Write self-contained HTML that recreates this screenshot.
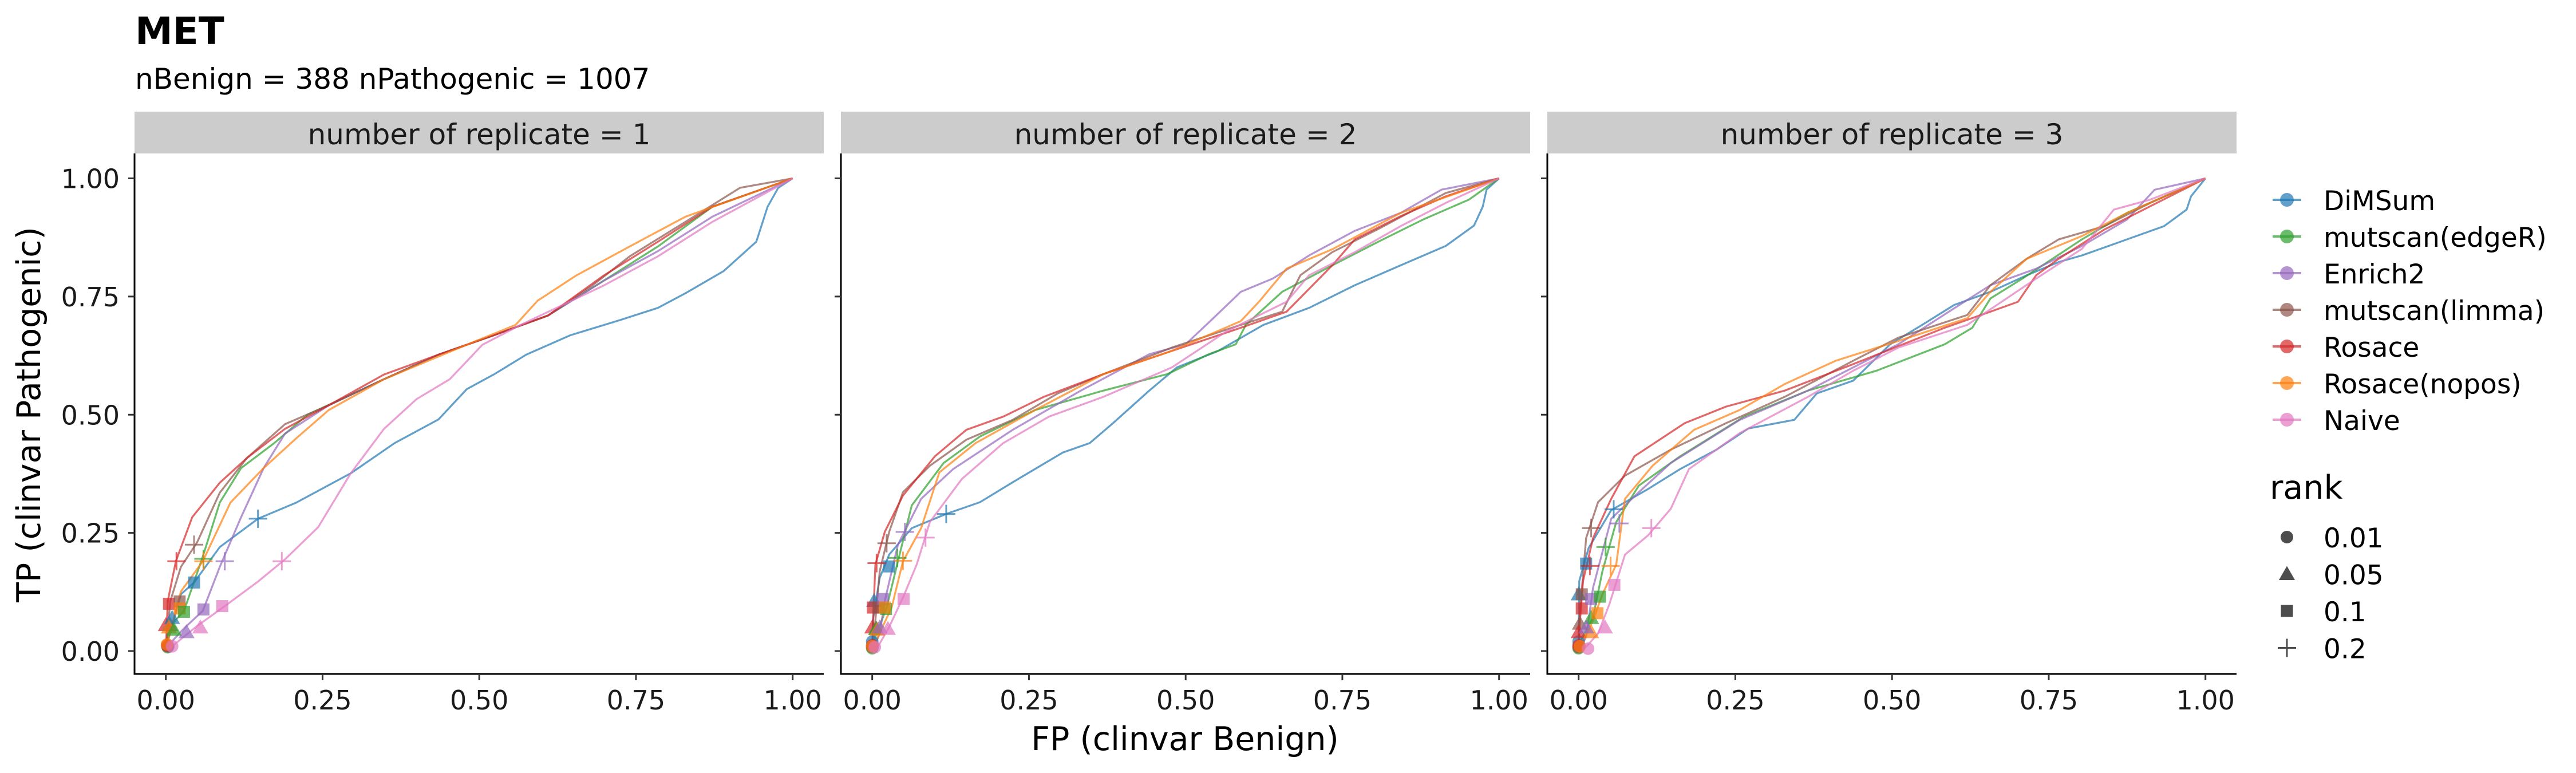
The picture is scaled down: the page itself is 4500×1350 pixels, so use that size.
<!DOCTYPE html>
<html><head><meta charset="utf-8"><style>
html,body{margin:0;padding:0;background:#fff;}
svg{display:block;font-family:"DejaVu Sans","Liberation Sans",sans-serif;}
</style></head><body>
<svg id="chart" width="4500" height="1350" viewBox="0 0 4500 1350" xmlns="http://www.w3.org/2000/svg">
<text x="236" y="77" font-size="66" font-weight="bold">MET</text>
<text x="236" y="155" font-size="50">nBenign = 388 nPathogenic = 1007</text>
<text transform="translate(70,724) rotate(-90)" text-anchor="middle" font-size="57">TP (clinvar Pathogenic)</text>
<text x="2070" y="1310" text-anchor="middle" font-size="57">FP (clinvar Benign)</text>
<g id="panels"></g>
<g id="legend"></g>
</svg>
<script>
const methods = ["DiMSum","mutscan(edgeR)","Enrich2","mutscan(limma)","Rosace","Rosace(nopos)","Naive"];
const colors = ["#1f77b4","#2ca02c","#9467bd","#8c564b","#d62728","#ff7f0e","#e377c2"];
const ranks = ["0.01","0.05","0.1","0.2"];
const panelTitles = ["number of replicate = 1","number of replicate = 2","number of replicate = 3"];
const tickValues = [0,0.25,0.5,0.75,1];
const tickLabels = ["0.00","0.25","0.50","0.75","1.00"];

// Panel 1 curves [fp,tp]
const r1_dimsum = [[0,0],[0.003,0.02],[0.024,0.12],[0.045,0.145],[0.086,0.22],[0.147,0.28],[0.208,0.314],[0.295,0.376],[0.365,0.44],[0.435,0.49],[0.48,0.554],[0.523,0.585],[0.575,0.627],[0.645,0.668],[0.724,0.70],[0.785,0.726],[0.829,0.757],[0.89,0.804],[0.942,0.866],[0.96,0.94],[0.977,0.98],[1,1]];
const r1_edger = [[0,0],[0.007,0.053],[0.029,0.085],[0.059,0.2],[0.086,0.314],[0.12,0.387],[0.173,0.44],[0.226,0.5],[0.348,0.575],[0.435,0.627],[0.523,0.668],[0.61,0.71],[0.698,0.783],[0.785,0.856],[0.872,0.94],[1,1]];
const r1_enrich2 = [[0,0],[0.011,0.022],[0.029,0.048],[0.059,0.085],[0.086,0.178],[0.12,0.283],[0.156,0.387],[0.19,0.46],[0.26,0.52],[0.348,0.575],[0.435,0.627],[0.523,0.668],[0.61,0.71],[0.698,0.783],[0.785,0.846],[0.872,0.919],[1,1]];
const r1_limma = [[0,0],[0.007,0.105],[0.024,0.178],[0.05,0.23],[0.086,0.335],[0.129,0.408],[0.19,0.48],[0.26,0.52],[0.348,0.575],[0.435,0.627],[0.523,0.668],[0.61,0.71],[0.68,0.773],[0.74,0.835],[0.829,0.908],[0.916,0.98],[1,1]];
const r1_rosace = [[0,0],[0.003,0.105],[0.016,0.19],[0.042,0.283],[0.086,0.356],[0.129,0.408],[0.19,0.47],[0.26,0.52],[0.348,0.585],[0.435,0.627],[0.523,0.668],[0.61,0.71],[0.698,0.794],[0.785,0.866],[0.872,0.94],[1,1]];
const r1_nopos = [[0,0],[0.003,0.02],[0.024,0.126],[0.059,0.19],[0.103,0.314],[0.156,0.387],[0.208,0.45],[0.26,0.51],[0.348,0.575],[0.48,0.648],[0.558,0.69],[0.593,0.741],[0.654,0.794],[0.74,0.856],[0.829,0.919],[1,1]];
const r1_naive = [[0,0],[0.011,0.011],[0.05,0.053],[0.094,0.095],[0.147,0.147],[0.19,0.194],[0.243,0.262],[0.295,0.376],[0.348,0.47],[0.4,0.533],[0.453,0.575],[0.505,0.648],[0.566,0.69],[0.698,0.773],[0.785,0.835],[0.872,0.908],[1,1]];

// Panel 2 curves
const r2_dimsum = [[0,0],[0.001,0.065],[0.012,0.155],[0.027,0.204],[0.063,0.26],[0.118,0.29],[0.172,0.315],[0.224,0.357],[0.304,0.42],[0.347,0.44],[0.384,0.482],[0.442,0.551],[0.486,0.6],[0.552,0.635],[0.624,0.69],[0.697,0.726],[0.77,0.774],[0.843,0.816],[0.915,0.857],[0.96,0.9],[0.974,0.94],[0.98,0.976],[1,1]];
const r2_edger = [[0,0],[0.005,0.03],[0.023,0.092],[0.041,0.19],[0.063,0.308],[0.114,0.398],[0.172,0.454],[0.26,0.51],[0.369,0.551],[0.471,0.586],[0.537,0.628],[0.58,0.649],[0.596,0.69],[0.654,0.76],[0.734,0.816],[0.806,0.865],[0.879,0.913],[0.952,0.955],[1,1]];
const r2_enrich2 = [[0,0],[0.012,0.037],[0.02,0.106],[0.041,0.225],[0.078,0.322],[0.129,0.385],[0.224,0.468],[0.333,0.551],[0.442,0.628],[0.5,0.649],[0.544,0.704],[0.588,0.76],[0.639,0.788],[0.697,0.837],[0.77,0.889],[0.843,0.927],[0.908,0.976],[1,1]];
const r2_limma = [[0,0],[0.005,0.065],[0.012,0.169],[0.027,0.252],[0.049,0.336],[0.092,0.392],[0.15,0.447],[0.224,0.489],[0.296,0.545],[0.369,0.586],[0.478,0.642],[0.588,0.69],[0.654,0.718],[0.683,0.795],[0.734,0.844],[0.806,0.892],[0.915,0.969],[1,1]];
const r2_rosace = [[0,0],[0.001,0.05],[0.005,0.183],[0.02,0.252],[0.049,0.329],[0.1,0.412],[0.15,0.468],[0.209,0.496],[0.274,0.538],[0.369,0.586],[0.478,0.635],[0.588,0.684],[0.661,0.718],[0.734,0.816],[0.77,0.871],[0.843,0.92],[0.915,0.962],[1,1]];
const r2_nopos = [[0,0],[0.009,0.03],[0.031,0.092],[0.049,0.19],[0.078,0.26],[0.107,0.378],[0.165,0.44],[0.26,0.51],[0.369,0.586],[0.478,0.635],[0.588,0.698],[0.617,0.739],[0.661,0.809],[0.734,0.85],[0.843,0.927],[1,1]];
const r2_naive = [[0,0],[0.009,0.009],[0.027,0.051],[0.049,0.113],[0.071,0.183],[0.092,0.273],[0.143,0.364],[0.209,0.44],[0.282,0.496],[0.369,0.538],[0.478,0.6],[0.566,0.677],[0.661,0.739],[0.697,0.795],[0.77,0.844],[0.843,0.899],[0.915,0.948],[1,1]];

// Panel 3 curves
const r3_dimsum = [[0,0],[0,0.009],[0.001,0.148],[0.016,0.218],[0.052,0.298],[0.111,0.343],[0.162,0.385],[0.22,0.426],[0.271,0.471],[0.344,0.489],[0.38,0.545],[0.438,0.572],[0.497,0.649],[0.548,0.69],[0.599,0.732],[0.657,0.76],[0.715,0.795],[0.766,0.823],[0.803,0.837],[0.875,0.871],[0.934,0.899],[0.97,0.934],[0.977,0.962],[1,1]];
const r3_edger = [[0,0],[0.001,0.016],[0.023,0.072],[0.038,0.169],[0.06,0.273],[0.096,0.35],[0.162,0.412],[0.264,0.496],[0.366,0.551],[0.475,0.593],[0.584,0.649],[0.628,0.684],[0.657,0.746],[0.708,0.788],[0.803,0.871],[0.875,0.927],[1,1]];
const r3_enrich2 = [[0,0],[0.012,0.03],[0.023,0.134],[0.052,0.28],[0.096,0.336],[0.147,0.398],[0.257,0.489],[0.366,0.551],[0.51,0.649],[0.599,0.725],[0.657,0.774],[0.73,0.809],[0.803,0.857],[0.875,0.913],[0.919,0.976],[1,1]];
const r3_limma = [[0,0],[0.001,0.065],[0.012,0.239],[0.031,0.315],[0.074,0.371],[0.147,0.426],[0.235,0.482],[0.329,0.538],[0.438,0.614],[0.51,0.663],[0.62,0.711],[0.657,0.774],[0.715,0.83],[0.766,0.871],[0.839,0.899],[0.912,0.948],[1,1]];
const r3_rosace = [[0,0],[0.001,0.044],[0.007,0.148],[0.023,0.239],[0.052,0.322],[0.089,0.412],[0.169,0.482],[0.235,0.517],[0.329,0.551],[0.438,0.607],[0.584,0.684],[0.657,0.718],[0.701,0.739],[0.73,0.795],[0.766,0.83],[0.839,0.892],[0.912,0.941],[1,1]];
const r3_nopos = [[0,0],[0.005,0.016],[0.023,0.065],[0.038,0.12],[0.06,0.183],[0.074,0.322],[0.118,0.392],[0.184,0.468],[0.257,0.51],[0.329,0.565],[0.41,0.614],[0.51,0.656],[0.62,0.704],[0.657,0.76],[0.715,0.83],[0.803,0.878],[0.875,0.927],[1,1]];
const r3_naive = [[0,0],[0.012,0.009],[0.031,0.037],[0.049,0.099],[0.074,0.204],[0.111,0.245],[0.147,0.301],[0.176,0.385],[0.257,0.461],[0.366,0.538],[0.438,0.593],[0.51,0.642],[0.62,0.69],[0.73,0.788],[0.803,0.851],[0.854,0.934],[0.912,0.955],[1,1]];

// markers: [methodIndex, rankIndex, fp, tp]
const r1_marks = [[0,0,0.003,0.01],[1,0,0.003,0.008],[2,0,0.004,0.01],[3,0,0.003,0.01],[4,0,0.002,0.012],[5,0,0.002,0.014],[6,0,0.01,0.01],
 [4,1,0,0.055],[3,1,0.007,0.055],[0,1,0.01,0.07],[5,1,0.005,0.05],[1,1,0.013,0.045],[2,1,0.033,0.04],[6,1,0.055,0.05],
 [4,2,0.005,0.1],[3,2,0.022,0.105],[5,2,0.022,0.09],[1,2,0.029,0.083],[0,2,0.045,0.145],[2,2,0.06,0.088],[6,2,0.09,0.095],
 [4,3,0.017,0.19],[3,3,0.045,0.225],[1,3,0.06,0.195],[5,3,0.06,0.19],[2,3,0.094,0.19],[0,3,0.147,0.28],[6,3,0.185,0.19]];
const r2_marks = [[0,0,0,0.02],[1,0,0,0.006],[2,0,0.001,0.01],[3,0,0,0.008],[4,0,0,0.012],[5,0,0,0.01],[6,0,0.004,0.008],
 [4,1,0,0.05],[0,1,0.003,0.106],[3,1,0.007,0.047],[1,1,0.006,0.047],[5,1,0.008,0.045],[2,1,0.012,0.05],[6,1,0.025,0.047],
 [4,2,0.001,0.092],[3,2,0.01,0.092],[2,2,0.017,0.11],[1,2,0.022,0.089],[0,2,0.027,0.179],[5,2,0.02,0.092],[6,2,0.05,0.11],
 [4,3,0.007,0.186],[3,3,0.023,0.228],[1,3,0.04,0.197],[5,3,0.049,0.191],[2,3,0.052,0.252],[6,3,0.085,0.24],[0,3,0.118,0.29]];
const r3_marks = [[0,0,0,0.02],[1,0,0,0.006],[2,0,0.001,0.01],[3,0,0,0.008],[4,0,0,0.012],[5,0,0.002,0.01],[6,0,0.015,0.005],
 [0,1,0,0.12],[3,1,0.002,0.058],[4,1,0,0.04],[1,1,0.02,0.07],[5,1,0.02,0.04],[2,1,0.012,0.05],[6,1,0.042,0.05],
 [0,2,0.012,0.185],[3,2,0.005,0.12],[4,2,0.005,0.09],[2,2,0.02,0.11],[1,2,0.034,0.115],[5,2,0.03,0.08],[6,2,0.057,0.14],
 [4,3,0.018,0.18],[3,3,0.02,0.26],[0,3,0.056,0.3],[2,3,0.065,0.27],[1,3,0.043,0.22],[5,3,0.051,0.18],[6,3,0.116,0.26]];

const curves = [
 [r1_dimsum,r1_edger,r1_enrich2,r1_limma,r1_rosace,r1_nopos,r1_naive],
 [r2_dimsum,r2_edger,r2_enrich2,r2_limma,r2_rosace,r2_nopos,r2_naive],
 [r3_dimsum,r3_edger,r3_enrich2,r3_limma,r3_rosace,r3_nopos,r3_naive]];
const marks = [r1_marks,r2_marks,r3_marks];

const NS = "http://www.w3.org/2000/svg";
function mk(tag, attrs, parent){const e=document.createElementNS(NS,tag);for(const k in attrs)e.setAttribute(k,attrs[k]);if(parent)parent.appendChild(e);return e;}
const PW=1204, PTOP=268, PBOT=1177, STRIP_TOP=195;
function panelLeft(i){return 235+i*1234;}
function xScale(i,v){return panelLeft(i)+54.7+v*1095;}
function yScale(v){return 1137-v*825.5;}

function shape(parent, r, cx, cy, color, sc){
  let e;
  if(r===0){e=mk("circle",{cx:cx,cy:cy,r:11*sc,fill:color},parent);}
  else if(r===1){const s=14*sc;e=mk("polygon",{points:`${cx},${cy-s} ${cx-s},${cy+s*0.75} ${cx+s},${cy+s*0.75}`,fill:color},parent);}
  else if(r===2){const s=10.5*sc;e=mk("rect",{x:cx-s,y:cy-s,width:2*s,height:2*s,fill:color},parent);}
  else {const s=16*sc;e=mk("path",{d:`M${cx-s},${cy}H${cx+s}M${cx},${cy-s}V${cy+s}`,stroke:color,"stroke-width":3,fill:"none"},parent);}
  return e;
}

const panelsG=document.getElementById("panels");
for(let p=0;p<3;p++){
  const g=mk("g",{},panelsG);
  
  
  const L=panelLeft(p);
  const strip=mk("rect",{x:L,y:STRIP_TOP,width:PW,height:PTOP-STRIP_TOP,fill:"#cccccc"},g);
  
  
  const st=mk("text",{x:L+PW/2,y:252,"text-anchor":"middle","font-size":50,fill:"#1a1a1a"},g);
  st.textContent=panelTitles[p];
  
  
  const ya=mk("line",{x1:L,y1:PTOP,x2:L,y2:PBOT+1.5,stroke:"#000","stroke-width":3},g);
  
  
  const xa=mk("line",{x1:L-1.5,y1:PBOT,x2:L+PW,y2:PBOT,stroke:"#000","stroke-width":3},g);
  
  
  tickValues.forEach((v,k)=>{
    const x=xScale(p,v);
    mk("line",{x1:x,y1:PBOT,x2:x,y2:PBOT+11,stroke:"#333","stroke-width":3},g);
    const t=mk("text",{x:x,y:1239,"text-anchor":"middle","font-size":46,fill:"#1a1a1a"},g);
    t.textContent=tickLabels[k];
    
    
    const y=yScale(v);
    mk("line",{x1:L-11,y1:y,x2:L,y2:y,stroke:"#333","stroke-width":3},g);
    if(p===0){
      const yt=mk("text",{x:L-26,y:y+17,"text-anchor":"end","font-size":46,fill:"#1a1a1a"},g);
      yt.textContent=tickLabels[k];
      
      
    }
  });
  curves[p].forEach((pts,m)=>{
    const d=pts.map((q,i)=>(i?"L":"M")+xScale(p,q[0]).toFixed(1)+","+yScale(q[1]).toFixed(1)).join("");
    const path=mk("path",{d:d,fill:"none",stroke:colors[m],"stroke-width":3.3,"stroke-opacity":0.7,"stroke-linejoin":"round"},g);
    
    
  });
  marks[p].forEach(mm=>{
    const e=shape(g,mm[1],xScale(p,mm[2]),yScale(mm[3]),colors[mm[0]],1);
    e.setAttribute('opacity',0.7);
    
    
  });
}

const lg=document.getElementById("legend");


methods.forEach((m,i)=>{
  const cy=349+i*64;
  const eg=mk("g",{},lg);
  
  
  mk("line",{x1:3970,y1:cy,x2:4020,y2:cy,stroke:colors[i],"stroke-width":4,"stroke-opacity":0.7},eg);
  mk("circle",{cx:3995,cy:cy,r:12,fill:colors[i],"fill-opacity":0.7},eg);
  const t=mk("text",{x:4059,y:cy+18,"font-size":47,fill:"#000"},eg);
  t.textContent=m;
});
const rt=mk("text",{x:3965,y:871,"font-size":57,fill:"#000"},lg);
rt.textContent="rank";


ranks.forEach((r,i)=>{
  const cy=938+i*64.5;
  const eg=mk("g",{},lg);
  
  
  shape(eg,i,3995,cy,"#4d4d4d",1);
  const t=mk("text",{x:4059,y:cy+18,"font-size":47,fill:"#000"},eg);
  t.textContent=r;
});
</script>
</body></html>
